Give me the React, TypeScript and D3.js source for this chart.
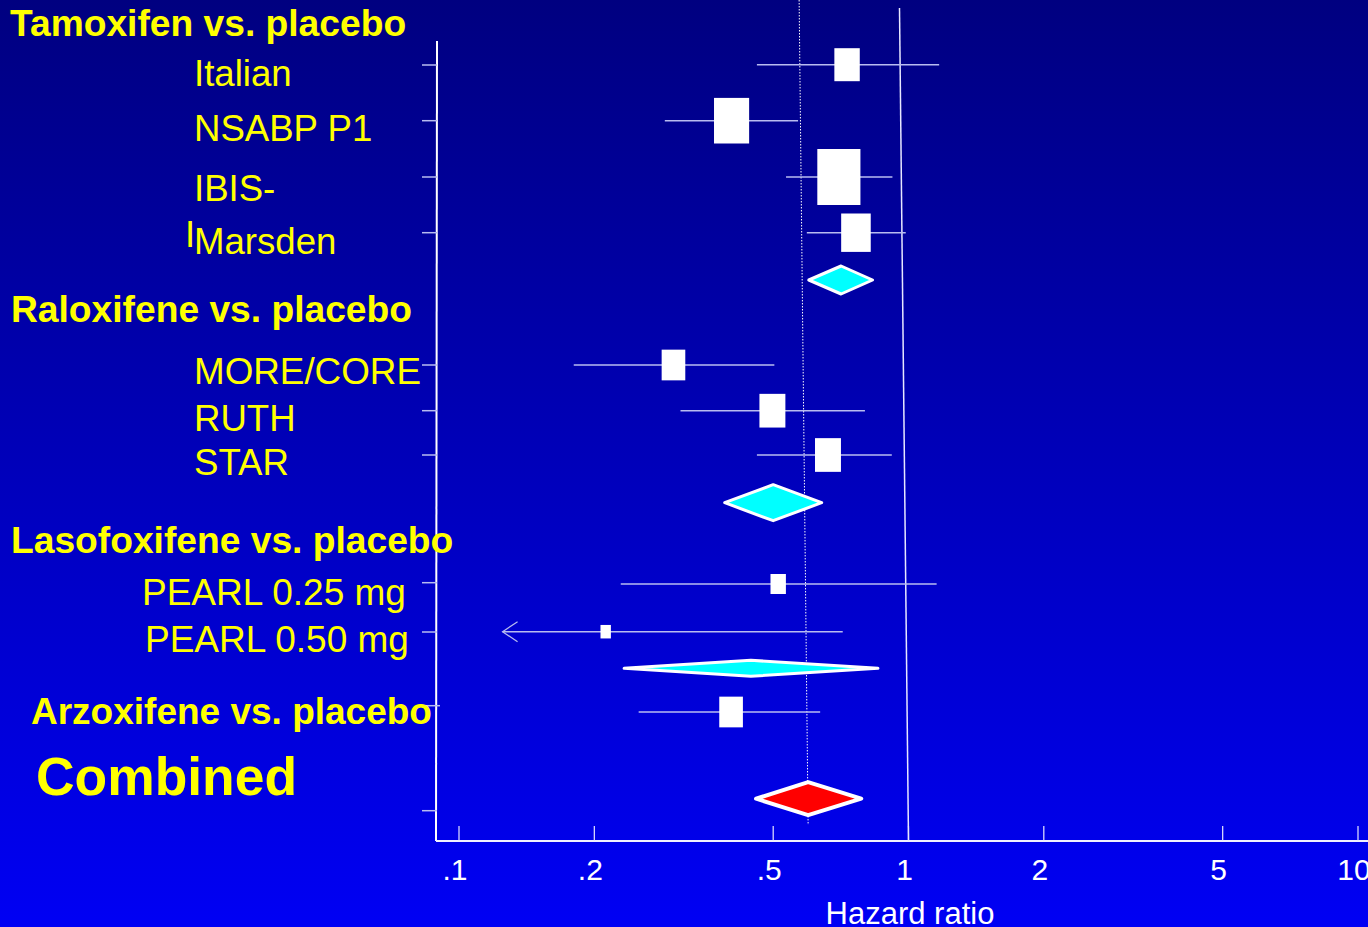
import React from "react";
import * as d3 from "d3";

// ---------- data ----------
const studyNames = ["Italian", "NSABP P1", "IBIS-I", "Marsden", "MORE/CORE", "RUTH", "STAR", "PEARL 0.25 mg", "PEARL 0.50 mg", "Arzoxifene"];
const studyHR = [0.73, 0.404, 0.70, 0.764, 0.30, 0.498, 0.662, 0.513, 0.212, 0.403];
const studyLower = [0.46, 0.287, 0.534, 0.594, 0.18, 0.311, 0.46, 0.229, 0.06, 0.251];
const studyUpper = [1.17, 0.568, 0.921, 0.986, 0.503, 0.80, 0.918, 1.155, 0.714, 0.636];
const studyWeight = [33, 45.6, 56, 38.4, 30.7, 33.7, 33.7, 20, 13.5, 30.7];
const studyRow = [2.37, 7.97, 13.6, 19.17, 32.4, 36.97, 41.4, 54.3, 59.07, 67.1];

const summaryNames = ["Tamoxifen", "Raloxifene", "Lasofoxifene", "Combined"];
const summaryHR = [0.708, 0.50, 0.446, 0.598];
const summaryLower = [0.60, 0.39, 0.233, 0.458];
const summaryUpper = [0.832, 0.641, 0.855, 0.785];
const summaryRow = [23.9, 46.17, 62.73, 75.77];

const tickRows = [2.4, 7.97, 13.6, 19.17, 32.4, 36.97, 41.4, 54.17, 59.1, 66.47, 76.97];

const xTickValues = [0.1, 0.2, 0.5, 1, 2, 5, 10];
const xTickLabels = [".1", ".2", ".5", "1", "2", "5", "10"];
const xAxisTitle = "Hazard ratio";

// ---------- layout / style ----------
const W = 1368;
const H = 927;
const FONT = "'Liberation Sans', Arial, sans-serif";
const YELLOW = "#ffff00";
const CI_COLOR = "#b8bcf0";
const CLIP_LOW = 0.125;
const diamondHalf = [14, 18, 8, 16.5];
const diamondFill = ["#00ffff", "#00ffff", "#00ffff", "#ff0000"];
const diamondStroke = [3, 3, 3, 4];
const refTilt = -9;

type Lbl = { text: string; x: number; y: number; size: number; bold?: boolean };
const labels: Lbl[] = [
  { text: "Tamoxifen vs. placebo", x: 10, y: 36, size: 37.2, bold: true },
  { text: "Italian", x: 194, y: 86, size: 36.6 },
  { text: "NSABP P1", x: 194, y: 141, size: 36.6 },
  { text: "IBIS-", x: 194, y: 201, size: 36.6 },
  { text: "I", x: 185, y: 247, size: 36.6 },
  { text: "Marsden", x: 194, y: 254, size: 36.6 },
  { text: "Raloxifene vs. placebo", x: 11, y: 321.5, size: 37.2, bold: true },
  { text: "MORE/CORE", x: 194, y: 384, size: 36.8 },
  { text: "RUTH", x: 194, y: 430.5, size: 36.6 },
  { text: "STAR", x: 194, y: 475, size: 36.6 },
  { text: "Lasofoxifene vs. placebo", x: 11, y: 553, size: 37.2, bold: true },
  { text: "PEARL 0.25 mg", x: 142, y: 604.5, size: 37 },
  { text: "PEARL 0.50 mg", x: 145, y: 652, size: 37 },
  { text: "Arzoxifene vs. placebo", x: 31, y: 724, size: 37, bold: true },
  { text: "Combined", x: 36, y: 795, size: 53.4, bold: true },
];

export default function App() {
  const x = d3.scaleLog().domain([0.1, 10]).range([459, 1358]);
  const y = d3.scaleLinear().domain([0, 80]).range([41, 841]);
  const wScale = d3.scaleLinear().domain([0, 56]).range([0, 56]);

  const axisY = y(80);
  const axisX = 437;

  const diamondPath = (i: number) => {
    const cy = y(summaryRow[i]);
    const h = diamondHalf[i];
    const pts: [number, number][] = [
      [x(summaryLower[i]), cy],
      [x(summaryHR[i]), cy - h],
      [x(summaryUpper[i]), cy],
      [x(summaryHR[i]), cy + h],
    ];
    return (d3.line()(pts) || "") + "Z";
  };

  const x1 = x(1);
  const xc = x(summaryHR[3]);

  return (
    <svg
      width={W}
      height={H}
      style={{ position: "absolute", left: 0, top: 0, display: "block" }}
    >
      <defs>
        <linearGradient id="bg" x1="0" y1="0" x2="0" y2="1">
          <stop offset="0%" stopColor="#000080" />
          <stop offset="100%" stopColor="#0000f4" />
        </linearGradient>
      </defs>
      <rect x={0} y={0} width={W} height={H} fill="url(#bg)" />

      {/* reference lines */}
      <line x1={x1 + refTilt} y1={8} x2={x1} y2={axisY} stroke="#e8e8ff" strokeWidth={1.5} />
      <line
        x1={xc + refTilt}
        y1={0}
        x2={xc}
        y2={y(78.4)}
        stroke="#ffffff"
        strokeWidth={1}
        strokeDasharray="1.5,1.5"
      />

      {/* axes */}
      <line x1={axisX} y1={y(0)} x2={axisX - 1} y2={axisY} stroke="#ffffff" strokeWidth={2} />
      <line x1={axisX - 1} y1={axisY} x2={W} y2={axisY} stroke="#f0f0ff" strokeWidth={2} />
      {tickRows.map((r, i) => (
        <line
          key={"yt" + i}
          x1={422}
          y1={y(r)}
          x2={i === 9 ? 440 : axisX}
          y2={y(r)}
          stroke={CI_COLOR}
          strokeWidth={1.5}
        />
      ))}
      {xTickValues.map((v, i) => (
        <g key={"xt" + i}>
          <line x1={x(v)} y1={axisY - 15} x2={x(v)} y2={axisY} stroke="#e8e8ff" strokeWidth={1.2} />
          <text
            x={x(v) - 4}
            y={axisY + 39}
            textAnchor="middle"
            fill="#ffffff"
            fontFamily={FONT}
            fontSize={30}
          >
            {xTickLabels[i]}
          </text>
        </g>
      ))}
      <text x={910} y={924} textAnchor="middle" fill="#ffffff" fontFamily={FONT} fontSize={31}>
        {xAxisTitle}
      </text>

      {/* studies */}
      {studyNames.map((name, i) => {
        const cy = y(studyRow[i]);
        const lo = Math.max(studyLower[i], CLIP_LOW);
        const xl = x(lo);
        const h = wScale(studyWeight[i]);
        const w = h * 0.77;
        return (
          <g key={name}>
            <line x1={xl} y1={cy} x2={x(studyUpper[i])} y2={cy} stroke={CI_COLOR} strokeWidth={1.5} />
            {studyLower[i] < CLIP_LOW && (
              <path
                d={`M${xl + 15},${cy - 10}L${xl},${cy}L${xl + 15},${cy + 10}`}
                fill="none"
                stroke={CI_COLOR}
                strokeWidth={1.2}
              />
            )}
            <rect x={x(studyHR[i]) - w / 2} y={cy - h / 2} width={w} height={h} fill="#ffffff" />
          </g>
        );
      })}

      {/* summary diamonds */}
      {summaryNames.map((name, i) => (
        <path
          key={name}
          d={diamondPath(i)}
          fill={diamondFill[i]}
          stroke="#ffffff"
          strokeWidth={diamondStroke[i]}
          strokeLinejoin="round"
        />
      ))}

      {/* labels */}
      {labels.map((l, i) => (
        <text
          key={"lbl" + i}
          x={l.x}
          y={l.y}
          fill={YELLOW}
          fontFamily={FONT}
          fontSize={l.size}
          fontWeight={l.bold ? "bold" : "normal"}
        >
          {l.text}
        </text>
      ))}
    </svg>
  );
}
